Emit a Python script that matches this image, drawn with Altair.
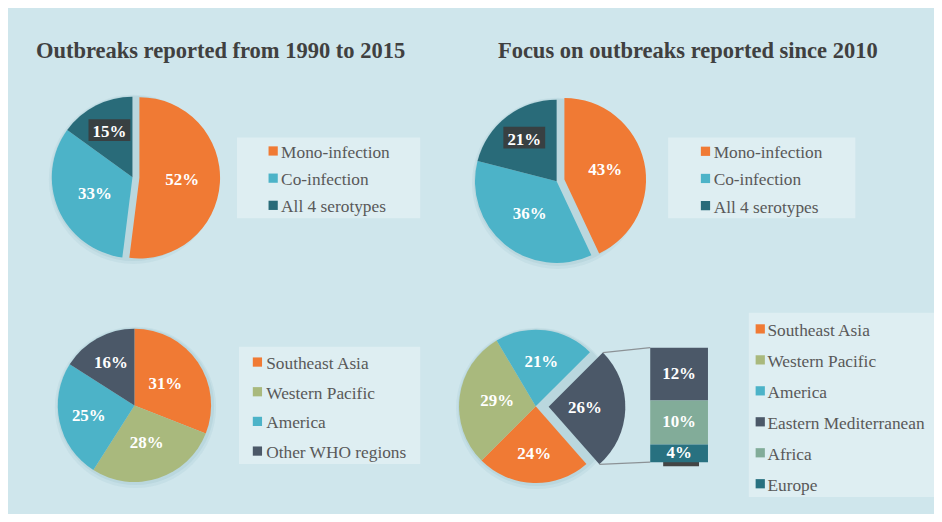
import math
import altair as alt
import pandas as pd

# ---------------- data ----------------
title_left = "Outbreaks reported from 1990 to 2015"
title_right = "Focus on outbreaks reported since 2010"

infection_types = ["Mono-infection", "Co-infection", "All 4 serotypes"]
share_1990_2015 = [52, 33, 15]
share_since_2010 = [43, 36, 21]

regions_1990_2015 = ["Southeast Asia", "Western Pacific", "America", "Other WHO regions"]
region_share_1990_2015 = [31, 28, 25, 16]

regions_since_2010 = ["Southeast Asia", "Western Pacific", "America", "Other WHO regions"]
region_share_since_2010 = [24, 29, 21, 26]

other_regions = ["Eastern Mediterranean", "Africa", "Europe"]
other_share = [12, 10, 4]

legend_regions_since_2010 = ["Southeast Asia", "Western Pacific", "America",
                             "Eastern Mediterranean", "Africa", "Europe"]

# ---------------- styles ----------------
SERIF = "Liberation Serif"
BG = "#cfe6ec"
PALETTE = {
    "Mono-infection": "#f07a34",
    "Co-infection": "#4cb3c8",
    "All 4 serotypes": "#296b79",
    "Southeast Asia": "#f07a34",
    "Western Pacific": "#a9b97d",
    "America": "#4cb3c8",
    "Other WHO regions": "#4b5868",
    "Eastern Mediterranean": "#4b5868",
    "Africa": "#82ac99",
    "Europe": "#287180",
}
CSCALE = alt.Scale(domain=list(PALETTE.keys()), range=list(PALETTE.values()))
O = 8  # page margin -> chart origin


def px(v):
    return v - O


def pie(cats, vals, cx, cy, R, start_deg, explode, label_r, boxed=()):
    total = sum(vals)
    s = math.radians(start_deg)
    df = pd.DataFrame({"cat": cats, "val": vals, "idx": list(range(len(cats)))})
    df["lr"] = [label_r[c] for c in cats]
    df["boxed"] = [c in boxed for c in cats]
    ex_cat, ex_d = explode
    base = (
        alt.Chart(df)
        .transform_stack(stack="val", as_=["v0", "v1"], groupby=[], sort=[alt.SortField("idx")])
        .transform_calculate(mid=f"{s} + (datum.v0 + datum.v1) / {2 * total} * 2 * PI")
        .transform_calculate(d=f"datum.cat === '{ex_cat}' ? {ex_d} : 0")
        .transform_calculate(ex=f"{px(cx)} + datum.d * sin(datum.mid)")
        .transform_calculate(ey=f"{px(cy)} - datum.d * cos(datum.mid)")
        .transform_calculate(lx="datum.ex + datum.lr * sin(datum.mid)")
        .transform_calculate(ly="datum.ey - datum.lr * cos(datum.mid)")
        .transform_calculate(lab="datum.val + '%'")
    )
    theta_scale = alt.Scale(domain=[0, total], range=[s, s + 2 * math.pi], nice=False)
    halo = alt.Chart(pd.DataFrame({"k": [0]})).mark_arc(
        radius=R + 4, theta=0, theta2=2 * math.pi, color="#2f6f80", opacity=0.06
    ).encode(x=alt.value(px(cx) + 1), y=alt.value(px(cy) + 2))
    halo2 = alt.Chart(pd.DataFrame({"k": [0]})).mark_arc(
        radius=R + 2, theta=0, theta2=2 * math.pi, color="#2f6f80", opacity=0.07
    ).encode(x=alt.value(px(cx) + 1), y=alt.value(px(cy) + 1))
    arcs = base.mark_arc(radius=R).encode(
        theta=alt.Theta("v0:Q", stack=None, scale=theta_scale),
        theta2="v1:Q",
        color=alt.Color("cat:N", scale=CSCALE, legend=None),
        x=alt.X("ex:Q", scale=None, axis=None),
        y=alt.Y("ey:Q", scale=None, axis=None),
    )
    boxes = (
        base.transform_filter("datum.boxed")
        .transform_calculate(bx0="datum.lx - 21", bx1="datum.lx + 21",
                             by0="datum.ly - 13", by1="datum.ly + 9")
        .mark_rect(color="#3a3a3a", opacity=0.88)
        .encode(
            x=alt.X("bx0:Q", scale=None, axis=None), x2="bx1:Q",
            y=alt.Y("by0:Q", scale=None, axis=None), y2="by1:Q",
        )
    )
    labels = base.mark_text(
        font=SERIF, fontSize=17, fontWeight="bold", color="white",
        align="center", baseline="middle",
    ).encode(
        x=alt.X("lx:Q", scale=None, axis=None),
        y=alt.Y("ly:Q", scale=None, axis=None),
        text="lab:N",
    )
    return [halo, halo2, arcs, boxes, labels]


def legend(cats, sq_x, txt_x, y0, step):
    df = pd.DataFrame({"cat": cats, "idx": list(range(len(cats)))})
    b = alt.Chart(df).transform_calculate(ly=f"{px(y0)} + datum.idx * {step}")
    sq = b.mark_square(size=86, opacity=1).encode(
        x=alt.value(px(sq_x)),
        y=alt.Y("ly:Q", scale=None, axis=None),
        color=alt.Color("cat:N", scale=CSCALE, legend=None),
    )
    tx = b.transform_calculate(ty="datum.ly + 2").mark_text(
        font=SERIF, fontSize=17.4, color="#595959", align="left", baseline="middle"
    ).encode(
        x=alt.value(px(txt_x)),
        y=alt.Y("ty:Q", scale=None, axis=None),
        text="cat:N",
    )
    return [sq, tx]


# ---------------- legend boxes ----------------
box_df = pd.DataFrame({
    "x0": [px(238), px(671), px(240), px(752)],
    "x1": [px(422), px(859), px(422), px(940)],
    "y0": [px(137), px(137), px(347), px(313)],
    "y1": [px(218), px(218), px(465), px(498)],
})
legend_boxes = alt.Chart(box_df).mark_rect(color="white", opacity=0.32).encode(
    x=alt.X("x0:Q", scale=None, axis=None), x2="x1:Q",
    y=alt.Y("y0:Q", scale=None, axis=None), y2="y1:Q",
)

# ---------------- titles ----------------
titles_df = pd.DataFrame({"t": [title_left, title_right], "x": [px(36), px(500)]})
titles = alt.Chart(titles_df).mark_text(
    font=SERIF, fontSize=22.6, fontWeight="bold", color="#404040",
    align="left", baseline="alphabetic",
).encode(x=alt.X("x:Q", scale=None, axis=None), y=alt.value(px(57)), text="t:N")

# ---------------- pies ----------------
layers = [legend_boxes, titles]
layers += pie(infection_types, share_1990_2015, 133, 177, 81, 0,
              ("Mono-infection", 7),
              {"Mono-infection": 43, "Co-infection": 41, "All 4 serotypes": 51},
              boxed=("All 4 serotypes",))
layers += pie(infection_types, share_since_2010, 559, 181, 82, 0,
              ("Mono-infection", 8),
              {"Mono-infection": 42, "Co-infection": 42.5, "All 4 serotypes": 53},
              boxed=("All 4 serotypes",))
layers += pie(regions_1990_2015, region_share_1990_2015, 135, 406, 77, 0,
              ("", 0),
              {"Southeast Asia": 37.5, "Western Pacific": 40, "America": 47,
               "Other WHO regions": 49})

# pie of pie: the "other" slice starts at 45 degrees (clockwise from 12 o'clock)
OTHER_START = 45.0
tot4 = sum(region_share_since_2010)
k_other = regions_since_2010.index("Other WHO regions")
before_other = sum(region_share_since_2010[:k_other])
start4 = (OTHER_START - before_other / tot4 * 360) % 360
C4X, C4Y, R4, D4 = 538, 407, 77, 13
layers += pie(regions_since_2010, region_share_since_2010, C4X, C4Y, R4, start4,
              ("Other WHO regions", D4),
              {"Southeast Asia": 48, "Western Pacific": 39, "America": 45,
               "Other WHO regions": 36.5})

# ---------------- bar of pie ----------------
BAR_X0, BAR_X1, BAR_TOP, BAR_BOT = 653, 711, 348, 463
bar_df = pd.DataFrame({"cat": other_regions, "val": other_share,
                       "idx": list(range(len(other_regions)))})
bar_total = sum(other_share)
yscale = alt.Scale(domain=[0, bar_total], range=[px(BAR_BOT), px(BAR_TOP)],
                   nice=False, zero=False)
bar_base = (
    alt.Chart(bar_df)
    .transform_stack(stack="val", as_=["b0", "b1"], groupby=[],
                     sort=[alt.SortField("idx", order="descending")])
    .transform_calculate(bm="(datum.b0 + datum.b1) / 2", lab="datum.val + '%'")
)
bar_shadow = bar_base.transform_filter("datum.idx == 2").mark_rect(
    color="#333333", opacity=0.9, yOffset=-7, y2Offset=13
).encode(
    x=alt.value(px(666)), x2=alt.value(px(702)),
    y=alt.Y("bm:Q", scale=yscale, axis=None), y2="bm:Q",
)
bars = bar_base.mark_rect().encode(
    x=alt.value(px(BAR_X0)), x2=alt.value(px(BAR_X1)),
    y=alt.Y("b0:Q", scale=yscale, axis=None), y2="b1:Q",
    color=alt.Color("cat:N", scale=CSCALE, legend=None),
)
bar_labels = bar_base.mark_text(
    font=SERIF, fontSize=17, fontWeight="bold", color="white",
    align="center", baseline="middle",
).encode(
    x=alt.value(px((BAR_X0 + BAR_X1) / 2)),
    y=alt.Y("bm:Q", scale=yscale, axis=None),
    text="lab:N",
)

# connectors from the exploded slice to the bar
a0 = math.radians(OTHER_START)
a1 = math.radians(OTHER_START + region_share_since_2010[k_other] / tot4 * 360)
amid = (a0 + a1) / 2
ecx = C4X + D4 * math.sin(amid)
ecy = C4Y - D4 * math.cos(amid)
conn_df = pd.DataFrame({
    "x": [px(ecx + R4 * math.sin(a0)), px(ecx + R4 * math.sin(a1))],
    "y": [px(ecy - R4 * math.cos(a0)), px(ecy - R4 * math.cos(a1))],
    "x2": [px(BAR_X0), px(BAR_X0)],
    "y2": [px(BAR_TOP), px(BAR_BOT)],
})
connectors = alt.Chart(conn_df).mark_rule(color="#8c9296", strokeWidth=1.3).encode(
    x=alt.X("x:Q", scale=None, axis=None), y=alt.Y("y:Q", scale=None, axis=None),
    x2="x2:Q", y2="y2:Q",
)

layers += [connectors, bar_shadow, bars, bar_labels]

# ---------------- legends ----------------
layers += legend(infection_types, 274.3, 282.3, 150.5, 27.3)
layers += legend(infection_types, 708.5, 716.7, 150.8, 27.3)
layers += legend(regions_1990_2015, 258.5, 267.3, 362.5, 29.8)
layers += legend(legend_regions_since_2010, 763.5, 770.7, 329.2, 31.1)

chart = (
    alt.layer(*layers)
    .resolve_scale(x="independent", y="independent", theta="independent")
    .properties(width=930, height=506, background=BG, padding=0,
                autosize=alt.AutoSizeParams(type="none"))
    .configure_view(strokeWidth=0)
)

chart.save("out.html", embed_options={"renderer": "svg", "actions": False})
